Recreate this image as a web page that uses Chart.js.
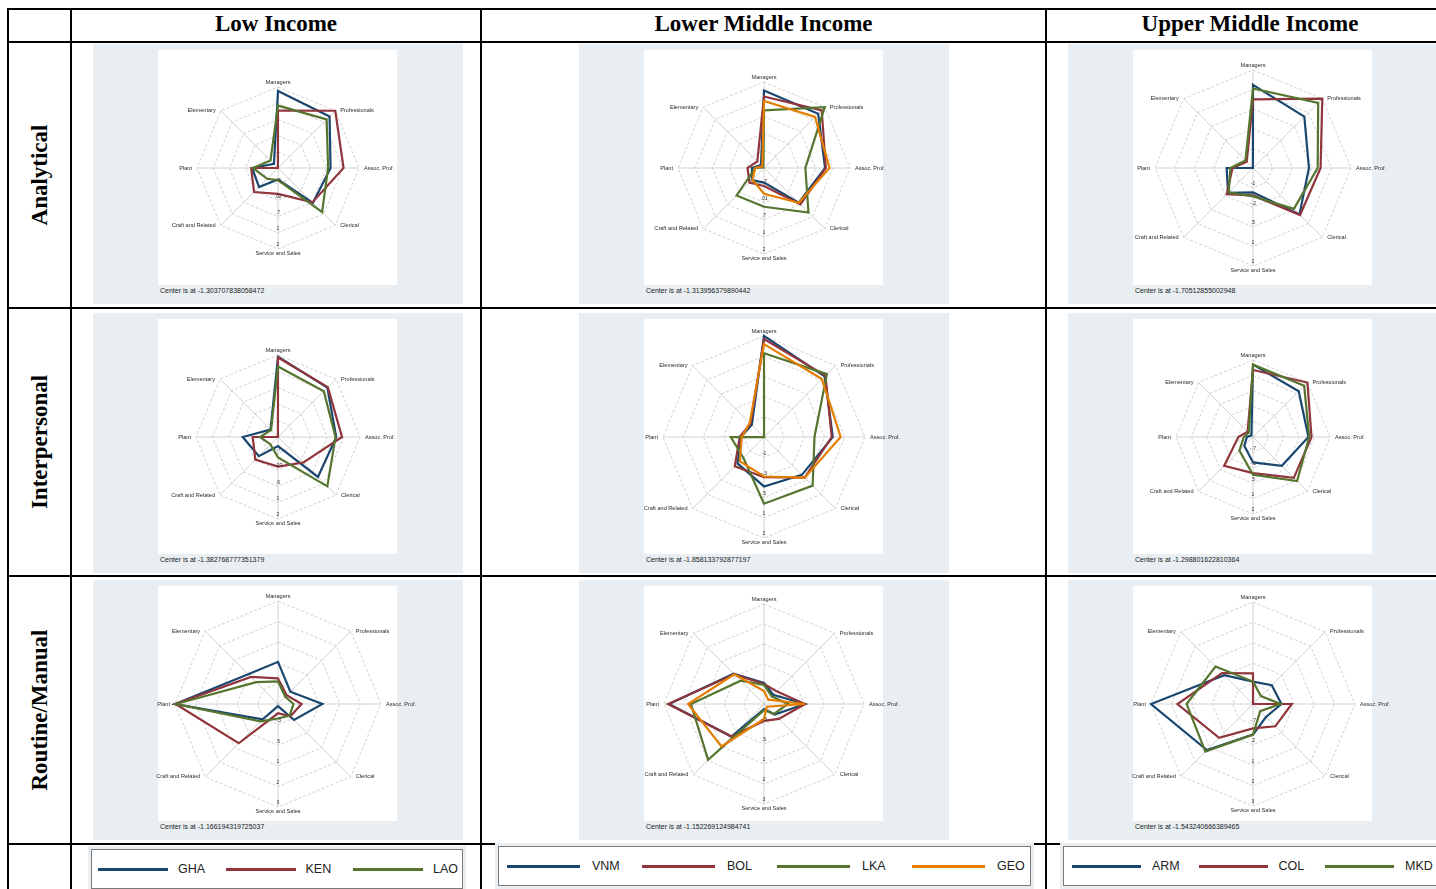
<!DOCTYPE html>
<html lang="en">
<head>
<meta charset="utf-8">
<title>Radar por ocupación</title>
<script src="https://cdn.jsdelivr.net/npm/chart.js@4.4.1/dist/chart.umd.min.js"></script>
<style>
  html, body { margin: 0; padding: 0; }
  body { width: 1436px; height: 889px; position: relative; overflow: hidden; background: #fff; font-family: "Liberation Sans", Arial, sans-serif; }
  .linea { position: absolute; background: #000; }
  .cabecera { position: absolute; height: 32px; line-height: 32px; text-align: center; font: bold 23px "Liberation Serif", "Times New Roman", serif; }
  .fila { position: absolute; font: bold 23px "Liberation Serif", "Times New Roman", serif; }
  .fila span { position: absolute; left: 50%; top: 50%; transform: translate(-50%, -50%) rotate(-90deg); white-space: nowrap; }
  .panel { position: absolute; width: 370px; height: 260px; background: #e8eef2; }
  .panel canvas { position: absolute; left: 0; top: 0; }
  .zona { position: absolute; left: 65px; top: 6px; width: 239px; height: 235px; background: #fff; }
  .nota { position: absolute; left: 67px; top: 242px; font-size: 7px; line-height: 9px; color: #222; white-space: nowrap; }
  .fondo-ley { position: absolute; background: #e8eef2; }
  .leyenda { position: absolute; height: 40px; background: #fff; border: 1px solid #7a7a7a; box-sizing: border-box; display: flex; align-items: center; }
  .item { display: flex; align-items: center; font-size: 12.5px; color: #222; flex: none; }
  .item i { display: inline-block; height: 3px; flex: none; }
</style>
</head>
<body>
<script>
const OCUPACIONES = ["Managers", "Professionals", "Assoc. Prof.", "Clerical", "Service and Sales", "Craft and Related", "Plant", "Elementary"];
const TAREAS = ["Analytical", "Interpersonal", "Routine/Manual"];
const GRUPOS = ["Low Income", "Lower Middle Income", "Upper Middle Income"];
const PAISES = [["GHA", "KEN", "LAO"], ["VNM", "BOL", "LKA", "GEO"], ["ARM", "COL", "MKD"]];

// valor del centro (nota de cada grafico), fila por tarea, columna por grupo
const CENTROS = [
  [-1.303707838058472, -1.313956379890442, -1.70512855002948],
  [-1.382768777351379, -1.858133792877197, -1.298801622810364],
  [-1.166194319725037, -1.152269124984741, -1.543240666389465],
];
// valor en el extremo de cada radio
const MAXIMOS = [
  [2.0, 2.0, 2.0],
  [1.9, 2.0, 1.7],
  [3.0, 3.0, 2.7],
];

// orden: Managers, Professionals, Assoc. Prof., Clerical, Service and Sales, Craft and Related, Plant, Elementary
const ANALYTICAL_LI = [
  [1.84, 1.67, 0.84, 0.71, -0.84, -0.21, -0.25, -1.07],
  [1.04, 2.00, 1.37, 0.68, -0.25, 0.08, -0.21, -1.30],
  [1.24, 1.50, 0.74, 1.24, -0.81, -0.68, -0.28, -0.87],
];
const ANALYTICAL_LMI = [
  [1.67, 1.64, 1.04, 0.58, -0.75, -0.65, -0.85, -1.15],
  [1.44, 1.83, 1.07, 0.67, -0.62, -0.52, -0.68, -0.95],
  [0.91, 2.00, 0.28, 1.11, 0.18, 0.18, -0.98, -1.28],
  [1.27, 1.47, 1.21, 0.58, -0.32, -0.68, -0.98, -1.22],
];
const ANALYTICAL_UMI = [
  [1.44, 1.04, 0.41, 0.78, -0.78, -0.37, -0.71, -1.70],
  [0.89, 2.00, 0.85, 0.81, -0.67, -0.30, -0.93, -1.37],
  [1.30, 1.78, 0.74, 0.48, -0.63, -0.41, -0.85, -1.30],
];
const INTERPERSONAL_LI = [
  [1.83, 1.41, 0.95, 0.88, -1.02, -0.30, 0.03, -0.96],
  [1.80, 1.44, 1.18, 0.06, -0.20, -0.10, -0.37, -1.38],
  [1.44, 1.21, 0.92, 1.41, -0.56, -0.96, -0.66, -0.99],
];
const INTERPERSONAL_LMI = [
  [2.00, 1.42, 0.77, 0.19, 0.03, -0.43, -0.97, -1.20],
  [1.88, 1.46, 0.73, 0.34, -0.32, -0.28, -0.93, -1.13],
  [1.34, 1.54, 0.07, 0.77, 0.69, -0.74, -0.59, -1.86],
  [1.69, 1.27, 1.07, 0.34, -0.35, -0.55, -1.01, -1.09],
];
const INTERPERSONAL_UMI = [
  [1.52, 1.22, 0.86, 0.29, -0.31, -0.82, -1.06, -1.21],
  [1.31, 1.70, 0.98, 0.95, 0.11, 0.29, -0.73, -1.00],
  [1.52, 1.52, 0.89, 1.13, 0.17, -0.55, -0.94, -1.06],
];
const ROUTINE_LI = [
  [0.54, -0.46, 0.63, -0.25, -1.08, -0.29, 3.00, 0.54],
  [-0.13, -0.67, -0.21, -0.46, -0.79, 1.08, 2.98, 0.38],
  [-0.25, -0.75, -0.54, -0.50, -0.58, -0.17, 2.96, 0.08],
];
const ROUTINE_LMI = [
  [-0.28, -0.61, 0.55, -0.53, -0.94, 0.76, 2.79, 0.63],
  [-0.32, -0.41, 0.55, -0.28, -0.45, 0.76, 2.83, 0.59],
  [-0.36, -0.70, -0.16, -0.57, -0.90, 2.13, 1.88, 0.22],
  [-0.61, -0.90, 0.55, -0.99, -0.53, 1.34, 2.00, 0.59],
];
const ROUTINE_UMI = [
  [-0.61, -0.44, -0.36, -0.78, -0.27, 1.17, 2.70, 0.15],
  [-0.27, -1.54, 0.07, -0.23, -0.53, 0.45, 1.60, 0.28],
  [-0.61, -1.08, -0.40, -1.12, -0.27, 1.26, 1.22, 0.66],
];
const SERIES = [
  [ANALYTICAL_LI, ANALYTICAL_LMI, ANALYTICAL_UMI],
  [INTERPERSONAL_LI, INTERPERSONAL_LMI, INTERPERSONAL_UMI],
  [ROUTINE_LI, ROUTINE_LMI, ROUTINE_UMI],
];
const N_ANILLOS = 5;

const COLORES = ["#1a476f", "#90353b", "#55752f", "#e37e00"];
const GRIS = "#c6c6c6";

// posiciones de la tabla
const PANEL_X = [93, 579, 1068];
const PANEL_Y = [44, 313, 580];
const PANEL_W = 370;
const PANEL_H = 260;
const RADIOS = [[81, 86, 98], [82, 101, 77], [103, 100, 102]];
const CENTRO_X = 185;
const CENTRO_Y = 124;

function linea(x, y, w, h) {
  const d = document.createElement("div");
  d.className = "linea";
  Object.assign(d.style, { left: x + "px", top: y + "px", width: w + "px", height: h + "px" });
  document.body.appendChild(d);
}

function caja(clase, x, y, w, h) {
  const d = document.createElement("div");
  d.className = clase;
  Object.assign(d.style, { left: x + "px", top: y + "px", width: w + "px", height: h + "px" });
  document.body.appendChild(d);
  return d;
}

// formato tipo %9.1g de Stata
function formatoStata(v) {
  const s = String(Number(v.toPrecision(1)));
  return s.replace(/^(-?)0\./, "$1.");
}

const etiquetasRadar = {
  id: "etiquetasRadar",
  afterDraw(chart) {
    const r = chart.scales.r;
    const ctx = chart.ctx;
    ctx.save();
    ctx.fillStyle = "#2a2a2a";
    ctx.font = '5.6px "Liberation Sans", Arial, sans-serif';
    chart.data.labels.forEach((txt, i) => {
      const p = r.getPointPosition(i, r.drawingArea);
      const cos = Math.cos(p.angle);
      const sin = Math.sin(p.angle);
      let x = p.x;
      let y = p.y;
      if (Math.abs(cos) < 0.1) {
        ctx.textAlign = "center";
        ctx.textBaseline = sin < 0 ? "bottom" : "top";
        y += sin < 0 ? -1.5 : 1.5;
      } else {
        ctx.textAlign = cos > 0 ? "left" : "right";
        ctx.textBaseline = "middle";
        x += cos > 0 ? 5 : -5;
      }
      ctx.fillText(txt, x, y);
    });
    // numeros del eje sobre el radio de Service and Sales
    ctx.font = '5px "Liberation Sans", Arial, sans-serif';
    ctx.textAlign = "center";
    ctx.textBaseline = "middle";
    r.ticks.forEach((t) => {
      if (t.value <= r.min) return;
      const p = r.getPointPositionForValue(4, t.value);
      ctx.fillText(formatoStata(t.value), p.x, p.y - 4);
    });
    ctx.restore();
  },
};

function crearRadar(canvas, fila, col) {
  const centro = CENTROS[fila][col];
  const maximo = MAXIMOS[fila][col];
  const radio = RADIOS[fila][col];
  const datos = SERIES[fila][col];
  const n = datos.length;
  return new Chart(canvas, {
    type: "radar",
    data: {
      labels: OCUPACIONES,
      datasets: datos.map((vals, i) => ({
        label: PAISES[col][i],
        data: vals,
        borderColor: COLORES[i],
        borderWidth: 2.2,
        fill: false,
        pointRadius: 0,
        tension: 0,
        order: n - i,
      })),
    },
    options: {
      responsive: false,
      animation: false,
      events: [],
      layout: {
        padding: {
          left: CENTRO_X - radio,
          right: PANEL_W - CENTRO_X - radio,
          top: CENTRO_Y - radio,
          bottom: PANEL_H - CENTRO_Y - radio,
        },
      },
      plugins: {
        legend: { display: false },
        tooltip: { enabled: false },
      },
      scales: {
        r: {
          min: centro,
          max: maximo,
          // anillos repartidos por igual entre el centro y el extremo, como en Stata
          afterBuildTicks: (scale) => {
            const paso = (maximo - centro) / N_ANILLOS;
            scale.ticks = Array.from({ length: N_ANILLOS }, (_, k) => ({ value: centro + paso * (k + 1) }));
          },
          ticks: { display: false },
          pointLabels: { display: false },
          grid: { color: GRIS, lineWidth: 0.8 },
          border: { dash: [3, 2] },
          angleLines: { color: GRIS, lineWidth: 0.8 },
        },
      },
    },
    plugins: [etiquetasRadar],
  });
}

// lineas de la tabla
[8, 41, 307, 575, 843].forEach((y) => linea(7, y, 1429, 2));
[7, 70, 480, 1045].forEach((x) => linea(x, 8, 2, 881));

// cabeceras
const CAB_X = [[72, 408], [482, 563], [1047, 406]];
GRUPOS.forEach((g, k) => {
  const d = caja("cabecera", CAB_X[k][0], 11, CAB_X[k][1], 32);
  d.textContent = g;
});
const FILA_Y = [[43, 264], [309, 266], [577, 266]];
TAREAS.forEach((t, f) => {
  const d = caja("fila", 9, FILA_Y[f][0], 61, FILA_Y[f][1]);
  const s = document.createElement("span");
  s.textContent = t;
  d.appendChild(s);
});

// paneles con radar
for (let f = 0; f < 3; f++) {
  for (let k = 0; k < 3; k++) {
    const panel = caja("panel", PANEL_X[k], PANEL_Y[f], PANEL_W, PANEL_H);
    const zona = document.createElement("div");
    zona.className = "zona";
    panel.appendChild(zona);
    const nota = document.createElement("div");
    nota.className = "nota";
    nota.textContent = "Center is at " + CENTROS[f][k];
    panel.appendChild(nota);
    const canvas = document.createElement("canvas");
    canvas.width = PANEL_W;
    canvas.height = PANEL_H;
    panel.appendChild(canvas);
    crearRadar(canvas, f, k);
  }
}

// leyendas
const LEYENDAS = [
  { x: 91, y: 849, w: 372, pad: 6, paso: 127.5, largo: 70, hueco: 10 },
  { x: 498, y: 846, w: 533, pad: 8, paso: 135, largo: 73, hueco: 12 },
  { x: 1063, y: 846, w: 380, pad: 8, paso: 126.5, largo: 69, hueco: 11 },
];
LEYENDAS.forEach((L, k) => {
  caja("fondo-ley", L.x - 3, L.y - 3, L.w + 6, 50);
  const box = caja("leyenda", L.x, L.y, L.w, 40);
  box.style.paddingLeft = L.pad + "px";
  PAISES[k].forEach((p, i) => {
    const it = document.createElement("div");
    it.className = "item";
    it.style.width = L.paso + "px";
    const raya = document.createElement("i");
    raya.style.width = L.largo + "px";
    raya.style.marginRight = L.hueco + "px";
    raya.style.background = COLORES[i];
    it.appendChild(raya);
    it.appendChild(document.createTextNode(p));
    box.appendChild(it);
  });
});
</script>
</body>
</html>
